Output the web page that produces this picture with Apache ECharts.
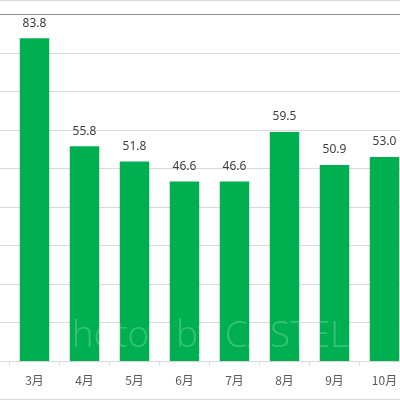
<!DOCTYPE html>
<html>
<head>
<meta charset="utf-8">
<script src="https://cdn.jsdelivr.net/npm/echarts@6/dist/echarts.min.js"></script>
<style>
html,body{margin:0;padding:0;background:#fff;}
#c{width:400px;height:400px;}
</style>
</head>
<body>
<div id="c"></div>
<script>
// The chart is cropped: the 2月 column lies off-canvas on the left (its value is not visible)
var categories = ['2月','3月','4月','5月','6月','7月','8月','9月','10月'];
var values = [null, 83.8, 55.8, 51.8, 46.6, 46.6, 59.5, 50.9, 53.0];
var yMin = 0, yMax = 90, yStep = 10;

var chart = echarts.init(document.getElementById('c'));
chart.setOption({
  animation: false,
  backgroundColor: '#ffffff',
  grid: { left: -40.5, width: 450, top: 14.5, bottom: 39, outerBoundsMode: 'none', containLabel: false },
  xAxis: [{
    type: 'category',
    data: categories,
    axisLine: { lineStyle: { color: '#d9d9d9', width: 1 } },
    axisTick: { show: true, length: 4, lineStyle: { color: '#d9d9d9' } },
    axisLabel: { color: '#595959', fontSize: 12, margin: 13,
      fontFamily: '"Noto Sans CJK JP", "Noto Sans", sans-serif' },
    splitLine: { show: false }
  }, {
    type: 'category',
    position: 'top',
    data: categories,
    axisLine: { lineStyle: { color: '#8f8f8f', width: 1 } },
    axisTick: { show: false },
    axisLabel: { show: false }
  }],
  yAxis: {
    type: 'value',
    min: yMin, max: yMax, interval: yStep,
    axisLine: { show: false },
    axisTick: { show: false },
    axisLabel: { show: false },
    splitLine: { lineStyle: { color: '#d9d9d9', width: 1 } }
  },
  series: [{
    type: 'bar',
    data: values,
    barWidth: '59%',
    itemStyle: { color: '#00b050' },
    label: {
      show: true, position: 'top', distance: 9,
      color: '#404040', fontSize: 12,
      fontFamily: '"Noto Sans", "DejaVu Sans", sans-serif',
      formatter: function (p) { return p.value == null ? '' : p.value.toFixed(1); }
    }
  }],
  graphic: [
    { type: 'line', shape: { x1: 0, y1: 0.5, x2: 400, y2: 0.5 }, style: { stroke: '#d9d9d9', lineWidth: 1 }, z: 100 },
    { type: 'line', shape: { x1: 0, y1: 399.5, x2: 400, y2: 399.5 }, style: { stroke: '#d9d9d9', lineWidth: 1 }, z: 100 },
    { type: 'text', left: 50, top: 318, z: 100,
      style: { text: 'Photos by CASTEL', fill: 'rgba(255,255,255,0.22)',
        font: '300 37px "Open Sans", Lato, sans-serif' } }
  ]
});
</script>
</body>
</html>
